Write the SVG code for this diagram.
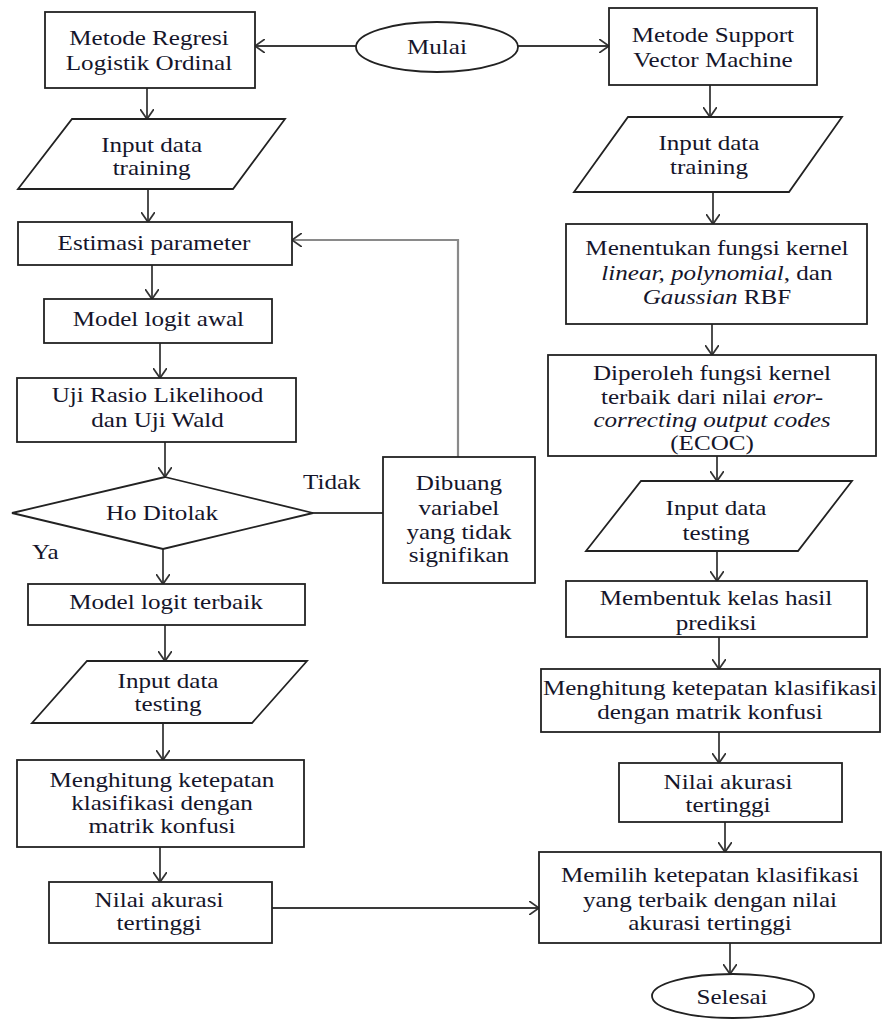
<svg xmlns="http://www.w3.org/2000/svg" width="882" height="1021" viewBox="0 0 882 1021">
<style>
.n{fill:#fff;stroke:#222;stroke-width:1.8}
.c{fill:none;stroke:#3a3a3a;stroke-width:1.8}
.g{fill:none;stroke:#8a8a8a;stroke-width:2.2}
text{font-family:"Liberation Serif","Times New Roman",serif;font-size:22px;fill:#15152a;text-anchor:middle}
.l{text-anchor:start}
.i{font-style:italic}
</style>
<defs>
<marker id="a" viewBox="0 0 10 14" refX="10" refY="7" markerWidth="10" markerHeight="14" markerUnits="userSpaceOnUse" orient="auto">
<path d="M0,0 L10,7 L0,14" fill="none" stroke="#333" stroke-width="1.8"/>
</marker>
</defs>
<rect width="882" height="1021" fill="#fff"/>
<g id="connectors">
<path class="c" d="M356,46 L255,46" marker-end="url(#a)"/>
<path class="c" d="M518,46 L609,46" marker-end="url(#a)"/>
<path class="c" d="M147,88 L147,119" marker-end="url(#a)"/>
<path class="c" d="M148,189 L148,222" marker-end="url(#a)"/>
<path class="c" d="M152,265 L152,299" marker-end="url(#a)"/>
<path class="c" d="M160,343 L160,378" marker-end="url(#a)"/>
<path class="c" d="M165,442 L165,477" marker-end="url(#a)"/>
<path class="c" d="M313,513 L383,513"/>
<path class="g" d="M458,457 L458,240 L292,240" marker-end="url(#a)"/>
<path class="c" d="M163,549 L163,584" marker-end="url(#a)"/>
<path class="c" d="M165,625 L165,661" marker-end="url(#a)"/>
<path class="c" d="M163,723 L163,760" marker-end="url(#a)"/>
<path class="c" d="M160,847 L160,882" marker-end="url(#a)"/>
<path class="c" d="M272,908 L539,908" marker-end="url(#a)"/>
<path class="c" d="M710,85 L710,117" marker-end="url(#a)"/>
<path class="c" d="M713,192 L713,224" marker-end="url(#a)"/>
<path class="c" d="M712,324 L712,355" marker-end="url(#a)"/>
<path class="c" d="M717,456 L717,481" marker-end="url(#a)"/>
<path class="c" d="M717,551 L717,581" marker-end="url(#a)"/>
<path class="c" d="M719,637 L719,669" marker-end="url(#a)"/>
<path class="c" d="M719,732 L719,763" marker-end="url(#a)"/>
<path class="c" d="M725,822 L725,852" marker-end="url(#a)"/>
<path class="c" d="M730,943 L730,974" marker-end="url(#a)"/>
</g>
<g id="mulai">
<ellipse class="n" cx="437" cy="47" rx="81" ry="25"/>
<text transform="scale(1.14 1)" x="383.3" y="54">Mulai</text>
</g>
<g id="metode-rlo">
<rect class="n" x="45" y="12" width="210" height="76"/>
<text transform="scale(1.14 1)" x="130.7" y="45">Metode Regresi</text>
<text transform="scale(1.14 1)" x="130.7" y="70">Logistik Ordinal</text>
</g>
<g id="input-training-l">
<polygon class="n" points="72,119 285,119 233,189 18,189"/>
<text transform="scale(1.14 1)" x="133" y="152">Input data</text>
<text transform="scale(1.14 1)" x="133" y="175">training</text>
</g>
<g id="estimasi">
<rect class="n" x="18" y="222" width="274" height="43"/>
<text transform="scale(1.14 1)" x="135.1" y="250">Estimasi parameter</text>
</g>
<g id="model-awal">
<rect class="n" x="44" y="299" width="228" height="44"/>
<text transform="scale(1.14 1)" x="139" y="326">Model logit awal</text>
</g>
<g id="uji">
<rect class="n" x="17" y="378" width="279" height="64"/>
<text transform="scale(1.14 1)" x="138.2" y="402">Uji Rasio Likelihood</text>
<text transform="scale(1.14 1)" x="138.2" y="427">dan Uji Wald</text>
</g>
<g id="ho-ditolak">
<polygon class="n" points="165,477 313,513 163,549 12,513"/>
<text transform="scale(1.14 1)" x="142.1" y="520">Ho Ditolak</text>
<text class="l" transform="scale(1.14 1)" x="265.8" y="489">Tidak</text>
<text class="l" transform="scale(1.14 1)" x="28.1" y="559">Ya</text>
</g>
<g id="dibuang">
<rect class="n" x="383" y="457" width="152" height="126"/>
<text transform="scale(1.14 1)" x="402.6" y="490">Dibuang</text>
<text transform="scale(1.14 1)" x="402.6" y="515">variabel</text>
<text transform="scale(1.14 1)" x="402.6" y="539">yang tidak</text>
<text transform="scale(1.14 1)" x="402.6" y="562">signifikan</text>
</g>
<g id="model-terbaik">
<rect class="n" x="28" y="584" width="277" height="41"/>
<text transform="scale(1.14 1)" x="145.6" y="609">Model logit terbaik</text>
</g>
<g id="input-testing-l">
<polygon class="n" points="87,661 307,661 252,723 32,723"/>
<text transform="scale(1.14 1)" x="147.4" y="688">Input data</text>
<text transform="scale(1.14 1)" x="147.4" y="711">testing</text>
</g>
<g id="menghitung-l">
<rect class="n" x="17" y="760" width="287" height="87"/>
<text transform="scale(1.14 1)" x="142.1" y="787">Menghitung ketepatan</text>
<text transform="scale(1.14 1)" x="142.1" y="810">klasifikasi dengan</text>
<text transform="scale(1.14 1)" x="142.1" y="833">matrik konfusi</text>
</g>
<g id="nilai-l">
<rect class="n" x="49" y="882" width="223" height="61"/>
<text transform="scale(1.14 1)" x="139.5" y="907">Nilai akurasi</text>
<text transform="scale(1.14 1)" x="139.5" y="930">tertinggi</text>
</g>
<g id="metode-svm">
<rect class="n" x="609" y="8" width="208" height="77"/>
<text transform="scale(1.14 1)" x="625.4" y="42">Metode Support</text>
<text transform="scale(1.14 1)" x="625.4" y="67">Vector Machine</text>
</g>
<g id="input-training-r">
<polygon class="n" points="628,117 842,117 789,192 574,192"/>
<text transform="scale(1.14 1)" x="621.9" y="150">Input data</text>
<text transform="scale(1.14 1)" x="621.9" y="174">training</text>
</g>
<g id="menentukan">
<rect class="n" x="566" y="224" width="301" height="100"/>
<text transform="scale(1.14 1)" x="628.9" y="255">Menentukan fungsi kernel</text>
<text transform="scale(1.14 1)" x="628.9" y="280"><tspan class="i">linear, polynomial</tspan>, dan</text>
<text transform="scale(1.14 1)" x="628.9" y="304"><tspan class="i">Gaussian</tspan> RBF</text>
</g>
<g id="diperoleh">
<rect class="n" x="548" y="355" width="328" height="101"/>
<text transform="scale(1.14 1)" x="624.6" y="380">Diperoleh fungsi kernel</text>
<text transform="scale(1.14 1)" x="624.6" y="404">terbaik dari nilai <tspan class="i">eror-</tspan></text>
<text transform="scale(1.14 1)" x="624.6" y="427" class="i">correcting output codes</text>
<text transform="scale(1.14 1)" x="624.6" y="450">(ECOC)</text>
</g>
<g id="input-testing-r">
<polygon class="n" points="641,481 852,481 798,551 586,551"/>
<text transform="scale(1.14 1)" x="628.1" y="515">Input data</text>
<text transform="scale(1.14 1)" x="628.1" y="540">testing</text>
</g>
<g id="membentuk">
<rect class="n" x="566" y="581" width="301" height="56"/>
<text transform="scale(1.14 1)" x="628.1" y="605">Membentuk kelas hasil</text>
<text transform="scale(1.14 1)" x="628.1" y="630">prediksi</text>
</g>
<g id="menghitung-r">
<rect class="n" x="541" y="669" width="339" height="63"/>
<text transform="scale(1.14 1)" x="622.8" y="695">Menghitung ketepatan klasifikasi</text>
<text transform="scale(1.14 1)" x="622.8" y="719">dengan matrik konfusi</text>
</g>
<g id="nilai-r">
<rect class="n" x="619" y="763" width="223" height="59"/>
<text transform="scale(1.14 1)" x="638.6" y="789">Nilai akurasi</text>
<text transform="scale(1.14 1)" x="638.6" y="812">tertinggi</text>
</g>
<g id="memilih">
<rect class="n" x="539" y="852" width="342" height="91"/>
<text transform="scale(1.14 1)" x="622.8" y="882">Memilih ketepatan klasifikasi</text>
<text transform="scale(1.14 1)" x="622.8" y="907">yang terbaik dengan nilai</text>
<text transform="scale(1.14 1)" x="622.8" y="930">akurasi tertinggi</text>
</g>
<g id="selesai">
<ellipse class="n" cx="733" cy="996" rx="81" ry="22"/>
<text transform="scale(1.14 1)" x="642.1" y="1004">Selesai</text>
</g>
</svg>
